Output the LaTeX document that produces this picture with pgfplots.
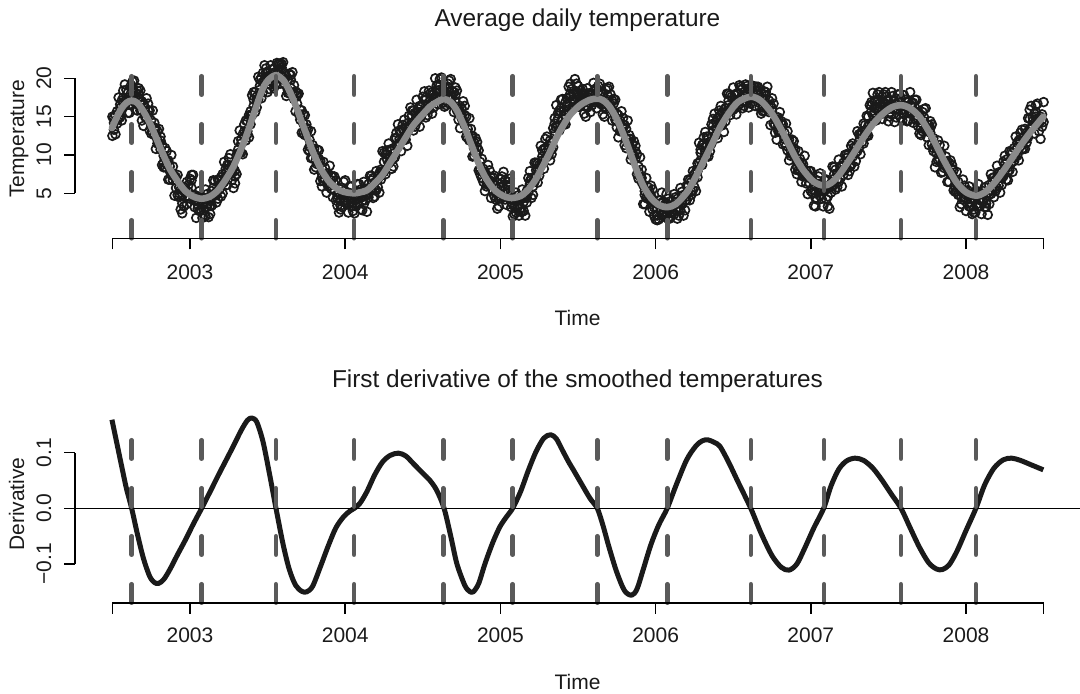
\documentclass[border=0pt]{standalone}
\usepackage{fontspec}
\setmainfont{Liberation Sans}
\usepackage{pgfplots}
\pgfplotsset{compat=1.18}
\usepackage{pgfplotstable}

\definecolor{vline}{HTML}{5A5A5A}
\definecolor{smoothgray}{HTML}{8A8A8A}
\definecolor{ink}{HTML}{1A1A1A}

\pgfplotstableread{
x y
2002.497 13.5
2002.53 15.0
2002.56 16.1
2002.59 16.8
2002.624 17.1
2002.66 16.8
2002.70 15.7
2002.74 14.2
2002.77 12.8
2002.82 10.4
2002.87 8.2
2002.92 6.6
2002.97 5.3
2003.02 4.6
2003.075 4.3
2003.13 4.6
2003.18 5.4
2003.23 6.8
2003.28 8.5
2003.33 10.8
2003.37 12.9
2003.42 15.9
2003.47 18.7
2003.51 19.9
2003.554 20.4
2003.60 19.8
2003.64 18.4
2003.68 16.5
2003.72 14.3
2003.75 12.7
2003.79 10.5
2003.84 8.3
2003.89 6.7
2003.94 5.7
2003.99 5.2
2004.059 5.0
2004.10 5.15
2004.14 5.4
2004.19 6.3
2004.24 7.4
2004.29 9.0
2004.342 10.7
2004.39 12.3
2004.44 13.9
2004.50 15.3
2004.546 16.3
2004.59 16.9
2004.637 17.3
2004.68 16.9
2004.72 15.8
2004.77 13.6
2004.80 12.0
2004.825 10.7
2004.86 8.9
2004.90 7.2
2004.95 5.7
2004.997 4.9
2005.04 4.5
2005.079 4.4
2005.13 4.65
2005.18 5.5
2005.23 6.9
2005.28 8.8
2005.324 10.6
2005.36 12.2
2005.40 13.7
2005.44 15.0
2005.47 15.7
2005.52 16.6
2005.577 17.2
2005.624 17.35
2005.66 17.15
2005.70 16.4
2005.75 14.7
2005.80 12.3
2005.846 9.75
2005.88 7.9
2005.92 6.0
2005.97 4.4
2006.02 3.5
2006.075 3.2
2006.13 3.6
2006.20 5.1
2006.26 7.2
2006.30 8.8
2006.336 10.3
2006.38 12.1
2006.415 13.6
2006.47 15.4
2006.53 16.9
2006.613 17.6
2006.68 17.05
2006.75 15.4
2006.81 13.3
2006.86 11.3
2006.91 9.35
2006.96 7.8
2007.02 6.5
2007.083 6.0
2007.13 6.35
2007.18 7.35
2007.23 8.8
2007.285 10.5
2007.34 12.3
2007.40 14.0
2007.46 15.3
2007.52 16.2
2007.581 16.5
2007.64 16.1
2007.70 15.0
2007.76 13.1
2007.81 11.2
2007.847 9.7
2007.89 8.1
2007.94 6.4
2008.00 5.15
2008.064 4.7
2008.12 5.1
2008.18 6.3
2008.24 7.9
2008.294 9.5
2008.35 11.2
2008.42 13.1
2008.498 15.0
}\tempsmooth

\pgfplotstableread{
x y
2002.497 0.159
2002.53 0.115
2002.56 0.075
2002.59 0.036
2002.624 0.000
2002.66 -0.045
2002.70 -0.090
2002.74 -0.122
2002.77 -0.133
2002.796 -0.135
2002.83 -0.128
2002.87 -0.110
2002.92 -0.083
2002.97 -0.057
2003.02 -0.029
2003.075 0.000
2003.13 0.030
2003.18 0.058
2003.23 0.085
2003.28 0.112
2003.33 0.140
2003.37 0.158
2003.398 0.162
2003.43 0.155
2003.47 0.120
2003.51 0.065
2003.554 0.000
2003.60 -0.065
2003.64 -0.110
2003.68 -0.138
2003.72 -0.149
2003.752 -0.150
2003.79 -0.140
2003.84 -0.105
2003.89 -0.068
2003.94 -0.035
2003.99 -0.015
2004.03 -0.005
2004.059 0.000
2004.095 0.009
2004.14 0.030
2004.19 0.060
2004.24 0.083
2004.29 0.095
2004.342 0.099
2004.39 0.094
2004.44 0.080
2004.50 0.063
2004.546 0.050
2004.59 0.032
2004.637 0.000
2004.68 -0.050
2004.72 -0.100
2004.77 -0.138
2004.80 -0.149
2004.825 -0.150
2004.86 -0.135
2004.90 -0.100
2004.95 -0.062
2004.997 -0.033
2005.04 -0.015
2005.079 0.000
2005.13 0.030
2005.18 0.068
2005.23 0.102
2005.28 0.126
2005.324 0.132
2005.36 0.125
2005.40 0.104
2005.44 0.083
2005.470 0.069
2005.52 0.045
2005.577 0.018
2005.624 0.000
2005.66 -0.030
2005.70 -0.070
2005.75 -0.115
2005.80 -0.148
2005.846 -0.156
2005.88 -0.145
2005.92 -0.110
2005.97 -0.065
2006.02 -0.030
2006.075 0.000
2006.13 0.040
2006.20 0.087
2006.26 0.112
2006.30 0.121
2006.336 0.123
2006.38 0.118
2006.415 0.111
2006.47 0.083
2006.53 0.048
2006.613 0.000
2006.68 -0.045
2006.75 -0.085
2006.81 -0.106
2006.86 -0.111
2006.91 -0.100
2006.96 -0.072
2007.02 -0.035
2007.083 0.000
2007.13 0.040
2007.18 0.070
2007.23 0.085
2007.285 0.090
2007.34 0.086
2007.40 0.072
2007.46 0.050
2007.52 0.025
2007.581 0.000
2007.64 -0.035
2007.70 -0.070
2007.76 -0.098
2007.81 -0.109
2007.847 -0.110
2007.89 -0.102
2007.94 -0.078
2008.00 -0.040
2008.064 0.000
2008.12 0.042
2008.18 0.072
2008.24 0.087
2008.294 0.090
2008.35 0.086
2008.42 0.078
2008.498 0.069
}\deriv

\pgfplotstableread{
x a b
2002.50 15.0 12.5
2002.52 15.2 12.7
2002.54 17.5 14.9
2002.56 17.1 14.5
2002.58 19.2 16.6
2002.60 18.1 15.5
2002.62 19.1 16.6
2002.64 19.7 17.2
2002.66 18.4 15.8
2002.68 18.4 15.8
2002.70 16.7 13.8
2002.72 17.4 14.8
2002.74 15.8 13.2
2002.76 15.8 12.9
2002.78 13.5 10.8
2002.80 13.4 11.5
2002.82 11.3 8.7
2002.84 10.9 8.4
2002.86 9.3 6.8
2002.88 10.0 7.4
2002.90 7.3 4.7
2002.92 7.4 4.8
2002.94 5.5 2.9
2002.96 5.8 3.3
2002.98 6.5 3.6
2003.00 6.9 4.3
2003.02 7.4 4.8
2003.04 4.0 1.8
2003.06 5.3 2.7
2003.08 4.4 1.8
2003.10 5.5 2.0
2003.12 4.3 1.9
2003.14 5.3 3.4
2003.16 6.6 4.7
2003.18 6.8 4.3
2003.20 7.1 4.6
2003.22 9.1 6.5
2003.24 8.7 6.1
2003.26 10.1 7.5
2003.28 8.3 5.7
2003.30 10.0 7.5
2003.32 13.2 10.3
2003.34 12.7 10.1
2003.36 14.5 11.9
2003.38 15.2 12.3
2003.40 17.8 15.2
2003.42 18.2 15.6
2003.44 20.2 17.3
2003.46 20.1 17.4
2003.48 21.7 19.8
2003.50 20.8 18.2
2003.52 21.7 19.2
2003.54 21.2 18.7
2003.56 22.0 20.6
2003.58 21.9 19.3
2003.60 22.1 19.8
2003.62 20.3 17.7
2003.64 20.6 18.1
2003.66 20.8 17.9
2003.68 18.3 15.7
2003.70 18.0 15.4
2003.72 15.8 12.9
2003.74 15.2 12.6
2003.76 13.3 10.7
2003.78 13.1 9.6
2003.80 10.8 8.1
2003.82 10.7 8.8
2003.84 9.2 6.6
2003.86 9.1 6.6
2003.88 7.6 5.1
2003.90 8.6 6.0
2003.92 7.1 4.5
2003.94 6.7 4.1
2003.96 5.1 2.5
2003.98 5.7 3.2
2004.00 6.7 3.8
2004.02 5.1 2.5
2004.04 5.9 3.3
2004.06 4.7 2.4
2004.08 6.2 3.6
2004.10 5.5 2.9
2004.12 6.5 3.6
2004.14 5.3 2.6
2004.16 7.3 5.4
2004.18 7.0 4.4
2004.20 7.9 5.4
2004.22 7.6 5.1
2004.24 10.5 7.9
2004.26 10.1 7.5
2004.28 11.5 8.9
2004.30 10.8 8.2
2004.32 12.2 9.7
2004.34 14.0 11.1
2004.36 13.1 10.5
2004.38 14.6 12.0
2004.40 14.1 11.2
2004.42 16.2 13.6
2004.44 15.8 13.2
2004.46 17.2 14.3
2004.48 16.4 13.7
2004.50 17.6 15.7
2004.52 17.5 14.9
2004.54 18.4 15.9
2004.56 17.9 15.4
2004.58 20.0 17.5
2004.60 19.2 16.6
2004.62 20.1 17.6
2004.64 18.9 16.3
2004.66 19.3 16.8
2004.68 19.9 17.3
2004.70 18.2 15.6
2004.72 18.4 15.8
2004.74 16.4 13.5
2004.76 17.0 14.4
2004.78 15.0 12.4
2004.80 14.8 11.9
2004.82 12.5 9.8
2004.84 12.2 10.3
2004.86 10.6 8.0
2004.88 9.5 7.0
2004.90 7.8 5.3
2004.92 8.7 6.1
2004.94 7.0 4.4
2004.96 7.3 4.7
2004.98 5.6 3.0
2005.00 6.9 4.4
2005.02 7.8 4.9
2005.04 6.1 3.5
2005.06 6.9 4.3
2005.08 3.6 2.0
2005.10 5.1 2.5
2005.12 4.4 2.1
2005.14 5.5 2.6
2005.16 4.6 2.1
2005.18 7.0 5.1
2005.20 7.0 4.4
2005.22 9.0 6.5
2005.24 8.9 6.4
2005.26 11.2 8.6
2005.28 10.8 8.2
2005.30 12.4 9.8
2005.32 11.9 9.3
2005.34 13.5 11.0
2005.36 16.5 13.6
2005.38 15.8 13.2
2005.40 17.3 14.7
2005.42 16.9 14.0
2005.44 18.9 16.3
2005.46 18.6 16.0
2005.48 19.9 17.0
2005.50 19.0 16.3
2005.52 18.4 16.5
2005.54 18.0 15.4
2005.56 18.7 16.2
2005.58 18.1 15.6
2005.60 19.4 17.1
2005.62 18.7 16.1
2005.64 19.3 16.8
2005.66 17.9 15.3
2005.68 18.5 16.0
2005.70 18.9 16.3
2005.72 17.1 14.5
2005.74 17.2 14.6
2005.76 15.2 12.3
2005.78 15.7 13.1
2005.80 13.9 11.3
2005.82 14.5 11.6
2005.84 12.1 9.4
2005.86 11.8 9.9
2005.88 10.1 7.5
2005.90 9.7 7.2
2005.92 6.1 3.6
2005.94 7.0 4.4
2005.96 5.2 2.6
2005.98 5.5 2.9
2006.00 3.7 1.6
2006.02 4.1 1.6
2006.04 5.1 2.2
2006.06 3.5 1.9
2006.08 4.3 1.7
2006.10 3.3 2.0
2006.12 4.9 2.3
2006.14 4.3 1.7
2006.16 5.7 2.8
2006.18 4.8 2.1
2006.20 6.0 4.1
2006.22 6.7 4.1
2006.24 7.9 5.4
2006.26 7.8 5.3
2006.28 11.6 9.0
2006.30 11.3 8.7
2006.32 13.0 10.4
2006.34 12.4 9.8
2006.36 14.0 11.5
2006.38 15.4 12.5
2006.40 14.8 12.2
2006.42 16.4 13.8
2006.44 15.9 13.0
2006.46 18.0 15.4
2006.48 17.8 15.2
2006.50 18.8 15.9
2006.52 18.0 15.3
2006.54 19.1 17.2
2006.56 18.7 16.1
2006.58 19.2 16.9
2006.60 18.7 16.2
2006.62 18.9 17.6
2006.64 18.9 16.4
2006.66 18.9 16.9
2006.68 18.0 15.4
2006.70 18.3 15.8
2006.72 18.9 16.0
2006.74 16.5 13.9
2006.76 16.7 14.1
2006.78 14.9 12.0
2006.80 15.6 13.0
2006.82 14.0 11.4
2006.84 14.1 11.2
2006.86 12.0 9.3
2006.88 12.0 10.1
2006.90 10.7 8.1
2006.92 10.5 8.0
2006.94 9.0 6.5
2006.96 9.9 7.3
2006.98 7.5 4.9
2007.00 7.9 5.3
2007.02 6.0 3.4
2007.04 6.7 4.2
2007.06 7.6 4.7
2007.08 5.9 3.3
2007.10 6.8 4.2
2007.12 5.9 3.0
2007.14 8.5 5.9
2007.16 8.1 5.5
2007.18 9.4 6.5
2007.20 8.6 5.9
2007.22 10.0 8.1
2007.24 10.0 7.4
2007.26 11.2 8.7
2007.28 11.0 8.5
2007.30 13.1 10.5
2007.32 12.7 10.1
2007.34 14.1 11.5
2007.36 15.1 12.5
2007.38 16.5 14.0
2007.40 18.1 15.2
2007.42 17.1 14.5
2007.44 18.2 15.7
2007.46 17.6 14.7
2007.48 18.2 16.7
2007.50 17.0 14.4
2007.52 18.2 15.3
2007.54 17.0 14.3
2007.56 17.9 16.0
2007.58 17.4 14.8
2007.60 17.8 15.3
2007.62 16.9 14.4
2007.64 18.2 15.6
2007.66 16.8 14.2
2007.68 17.2 14.6
2007.70 15.4 12.8
2007.72 15.6 13.1
2007.74 16.1 13.2
2007.76 13.9 11.3
2007.78 14.0 11.4
2007.80 11.3 8.4
2007.82 11.9 9.3
2007.84 10.3 7.7
2007.86 11.2 8.3
2007.88 9.2 6.5
2007.90 9.3 7.4
2007.92 8.0 5.4
2007.94 7.8 5.3
2007.96 5.7 3.2
2007.98 6.8 4.2
2008.00 5.3 2.7
2008.02 5.9 3.3
2008.04 4.4 2.3
2008.06 5.0 2.5
2008.08 6.2 3.3
2008.10 4.9 2.3
2008.12 5.8 3.2
2008.14 5.1 2.2
2008.16 7.5 4.9
2008.18 7.1 4.5
2008.20 8.6 5.7
2008.22 7.8 5.1
2008.24 9.1 7.2
2008.26 9.4 6.8
2008.28 10.5 8.0
2008.30 10.3 7.8
2008.32 12.4 9.8
2008.34 11.9 9.3
2008.36 13.3 10.7
2008.38 13.4 10.8
2008.40 14.8 12.3
2008.42 16.4 13.5
2008.44 15.4 12.8
2008.46 16.7 14.1
2008.48 15.0 12.1
2008.50 16.9 14.3
}\obs

\pgfplotstableread{
x y u l
2002.51 14.2 14.9 13.3
2002.53 14.6 15.7 14.1
2002.55 16.1 16.6 14.9
2002.57 17.5 18.4 16.9
2002.59 17.2 18.5 16.8
2002.61 16.6 17.2 15.5
2002.63 18.6 19.6 17.8
2002.65 17.7 18.1 16.7
2002.67 17.9 18.7 17.4
2002.69 15.8 17.0 14.5
2002.71 15.7 16.2 15.0
2002.73 15.8 16.7 15.2
2002.75 13.8 14.5 12.8
2002.77 13.5 14.2 12.6
2002.79 12.0 13.1 11.5
2002.81 11.9 12.4 10.7
2002.83 9.0 9.9 8.4
2002.85 9.2 10.5 8.8
2002.87 7.9 8.5 6.8
2002.89 7.5 8.5 6.7
2002.91 6.7 7.1 5.7
2002.93 5.0 5.8 4.5
2002.95 3.7 4.9 2.4
2002.97 5.2 5.7 4.5
2002.99 5.2 6.1 4.6
2003.01 6.7 7.4 5.7
2003.03 4.1 4.8 3.2
2003.05 3.5 4.6 3.0
2003.07 4.1 4.6 2.9
2003.09 2.8 3.7 2.2
2003.11 3.6 4.9 3.2
2003.13 3.4 4.0 2.3
2003.15 5.7 6.7 4.9
2003.17 4.8 5.2 3.8
2003.19 6.0 6.8 5.5
2003.21 6.3 7.5 5.0
2003.23 7.7 8.2 7.0
2003.25 8.7 9.6 8.1
2003.27 7.7 8.4 6.7
2003.29 7.2 7.9 6.3
2003.31 10.7 11.8 10.2
2003.33 11.5 12.0 10.3
2003.35 13.1 14.0 12.5
2003.37 13.1 14.4 12.7
2003.39 15.1 15.7 14.0
2003.41 17.2 18.2 16.4
2003.43 17.2 17.6 16.2
2003.45 19.0 19.8 18.5
2003.47 19.5 20.7 18.2
2003.49 20.8 21.3 20.1
2003.51 19.2 20.1 18.6
2003.53 20.5 21.2 19.5
2003.55 20.1 20.8 19.2
2003.57 21.1 21.9 20.6
2003.59 21.4 21.9 20.2
2003.61 19.8 20.7 19.2
2003.63 18.5 19.8 18.1
2003.65 19.8 20.4 18.7
2003.67 18.1 19.1 17.3
2003.69 17.7 18.1 16.7
2003.71 15.1 15.9 14.6
2003.73 14.1 15.3 12.8
2003.75 13.5 14.0 12.8
2003.77 11.1 12.0 10.5
2003.79 10.6 11.3 9.6
2003.81 9.3 10.0 8.4
2003.83 9.5 10.6 9.0
2003.85 7.1 7.6 5.9
2003.87 7.4 8.3 6.8
2003.89 6.3 7.6 5.9
2003.91 6.7 7.3 5.6
2003.93 6.2 7.2 5.4
2003.95 4.4 4.8 3.4
2003.97 3.4 4.2 2.9
2003.99 5.3 6.5 4.0
2004.01 4.4 4.9 3.7
2004.03 5.0 5.9 4.4
2004.05 3.7 4.4 2.7
2004.07 4.2 4.9 3.3
2004.09 5.1 6.2 4.6
2004.11 4.0 4.5 2.8
2004.13 4.7 5.6 4.1
2004.15 4.9 6.2 4.5
2004.17 6.7 7.3 5.6
2004.19 5.4 6.4 4.6
2004.21 6.8 7.2 5.8
2004.23 7.3 8.1 6.8
2004.25 9.1 10.3 7.8
2004.27 10.1 10.6 9.4
2004.29 9.7 10.6 9.1
2004.31 9.5 10.2 8.5
2004.33 12.2 12.9 11.3
2004.35 12.1 13.2 11.6
2004.37 13.4 13.9 12.2
2004.39 12.6 13.5 12.0
2004.41 13.8 15.1 13.4
2004.43 15.2 15.8 14.1
2004.45 14.5 15.5 13.7
2004.47 15.6 16.0 14.6
2004.49 15.6 16.4 15.1
2004.51 17.1 18.3 15.8
2004.53 15.9 16.4 15.2
2004.55 17.2 18.1 16.6
2004.57 17.2 17.9 16.2
2004.59 18.4 19.1 17.5
2004.61 19.0 19.9 18.5
2004.63 18.0 18.5 16.8
2004.65 17.1 18.0 16.5
2004.67 18.7 19.7 18.3
2004.69 17.7 18.3 16.6
2004.71 17.8 18.8 17.0
2004.73 15.6 16.0 14.6
2004.75 15.3 16.1 14.8
2004.77 15.2 16.4 13.9
2004.79 12.9 13.4 12.2
2004.81 12.5 13.4 11.9
2004.83 10.9 11.6 9.9
2004.85 11.0 11.7 10.1
2004.87 8.0 9.1 7.5
2004.89 7.7 8.2 6.5
2004.91 6.5 7.4 5.9
2004.93 6.7 8.0 6.3
2004.95 6.5 7.1 5.4
2004.97 5.0 6.0 4.2
2004.99 4.3 4.7 3.3
2005.01 6.4 7.2 5.9
2005.03 5.5 6.7 4.2
2005.05 6.0 6.5 5.3
2005.07 3.8 4.7 3.2
2005.09 3.3 4.0 2.3
2005.11 4.0 4.7 3.1
2005.13 3.1 4.2 2.6
2005.15 3.9 4.4 2.7
2005.17 4.4 5.3 3.8
2005.19 6.6 7.9 6.2
2005.21 5.9 6.5 4.8
2005.23 8.0 9.0 7.2
2005.25 8.3 8.7 7.3
2005.27 9.8 10.6 9.3
2005.29 10.9 12.1 9.6
2005.31 10.7 11.2 10.0
2005.33 10.7 11.6 10.1
2005.35 14.1 14.8 13.1
2005.37 14.7 15.4 13.8
2005.39 16.1 17.2 15.6
2005.41 15.3 15.8 14.1
2005.43 16.5 17.4 15.9
2005.45 18.0 19.3 17.6
2005.47 17.3 17.9 16.2
2005.49 18.3 19.3 17.5
2005.51 17.3 17.7 16.3
2005.53 17.8 18.6 17.3
2005.55 16.3 17.5 15.0
2005.57 17.5 18.0 16.8
2005.59 17.1 18.0 16.5
2005.61 17.9 18.6 16.9
2005.63 18.3 19.0 17.4
2005.65 17.1 18.2 16.6
2005.67 16.2 16.7 15.0
2005.69 17.8 18.7 17.2
2005.71 16.6 17.9 16.2
2005.73 16.7 17.3 15.6
2005.75 14.4 15.4 13.6
2005.77 14.1 14.5 13.1
2005.79 14.0 14.8 13.5
2005.81 12.2 13.4 10.9
2005.83 12.1 12.6 11.4
2005.85 10.5 11.4 9.9
2005.87 10.5 11.2 9.5
2005.89 7.8 8.5 6.9
2005.91 7.0 8.1 6.5
2005.93 4.8 5.3 3.6
2005.95 4.9 5.8 4.3
2005.97 4.7 6.0 4.3
2005.99 3.2 3.8 2.1
2006.01 2.1 3.1 1.5
2006.03 3.7 4.1 2.7
2006.05 3.1 3.9 2.6
2006.07 3.7 4.9 2.4
2006.09 2.4 2.9 1.7
2006.11 3.1 4.0 2.5
2006.13 3.8 4.5 2.8
2006.15 3.0 3.7 2.1
2006.17 4.1 5.2 3.6
2006.19 4.0 4.5 2.8
2006.21 5.9 6.8 5.3
2006.23 5.2 6.5 4.8
2006.25 6.9 7.5 5.8
2006.27 7.9 8.9 7.1
2006.29 10.3 10.7 9.3
2006.31 11.5 12.3 11.0
2006.33 11.2 12.4 9.9
2006.35 11.2 11.7 10.5
2006.37 13.8 14.7 13.2
2006.39 13.6 14.3 12.6
2006.41 15.1 15.8 14.2
2006.43 14.4 15.5 13.9
2006.45 15.6 16.1 14.4
2006.47 17.1 18.0 16.5
2006.49 16.3 17.6 15.9
2006.51 17.2 17.8 16.1
2006.53 17.1 18.1 16.3
2006.55 18.5 18.9 17.5
2006.57 16.9 17.7 16.4
2006.59 18.1 19.0 16.8
2006.61 17.4 17.9 16.7
2006.63 18.1 19.0 17.5
2006.65 18.4 18.9 17.4
2006.67 17.1 17.8 16.2
2006.69 16.2 17.3 15.7
2006.71 17.7 18.2 16.5
2006.73 16.2 17.1 15.6
2006.75 16.1 17.4 15.7
2006.77 14.0 14.6 12.9
2006.79 13.9 14.9 13.1
2006.81 14.0 14.4 13.0
2006.83 12.1 12.9 11.6
2006.85 11.9 13.1 10.6
2006.87 10.6 11.1 9.9
2006.89 10.9 11.8 10.3
2006.91 8.5 9.2 7.5
2006.93 8.8 9.5 7.9
2006.95 7.7 8.8 7.2
2006.97 7.5 8.0 6.3
2006.99 7.0 7.9 6.4
2007.01 5.5 6.8 5.1
2007.03 4.4 5.0 3.3
2007.05 6.2 7.2 5.4
2007.07 5.3 5.7 4.3
2007.09 5.9 6.7 5.4
2007.11 4.6 5.8 3.3
2007.13 5.8 6.3 5.1
2007.15 7.5 8.4 6.9
2007.17 6.8 7.5 5.8
2007.19 7.8 8.5 6.9
2007.21 7.9 9.0 7.4
2007.23 9.6 10.1 8.4
2007.25 8.5 9.4 7.9
2007.27 10.2 11.5 9.8
2007.29 10.3 10.9 9.2
2007.31 11.7 12.7 10.9
2007.33 12.7 13.1 11.7
2007.35 13.1 13.9 12.6
2007.37 13.8 15.0 12.5
2007.39 16.4 16.9 15.7
2007.41 16.1 17.0 15.5
2007.43 17.2 17.9 16.2
2007.45 16.2 16.9 15.3
2007.47 16.8 17.9 16.3
2007.49 17.1 17.6 15.9
2007.51 15.6 16.5 15.0
2007.53 16.4 17.7 16.0
2007.55 16.0 16.6 14.9
2007.57 17.2 17.9 16.4
2007.59 15.5 15.9 14.5
2007.61 16.4 17.2 15.9
2007.63 15.8 17.0 14.5
2007.65 16.3 16.8 15.6
2007.67 16.3 17.2 15.7
2007.69 14.8 15.5 13.8
2007.71 13.5 14.2 12.6
2007.73 14.9 16.0 14.4
2007.75 13.5 14.0 12.3
2007.77 13.5 14.4 12.9
2007.79 10.9 12.2 10.5
2007.81 10.2 10.8 9.1
2007.83 10.3 11.3 9.5
2007.85 8.8 9.2 7.8
2007.87 9.0 9.8 8.5
2007.89 7.8 9.0 6.5
2007.91 8.2 8.7 7.5
2007.93 5.8 6.7 5.2
2007.95 5.8 6.5 4.8
2007.97 4.5 5.2 3.6
2007.99 4.9 6.0 4.4
2008.01 4.9 5.4 3.7
2008.03 3.8 4.7 3.2
2008.05 2.9 4.2 2.5
2008.07 4.7 5.3 3.6
2008.09 4.1 5.1 3.3
2008.11 4.9 5.3 3.9
2008.13 3.7 4.5 3.2
2008.15 4.9 6.1 3.6
2008.17 6.5 7.0 5.8
2008.19 5.9 6.8 5.3
2008.21 7.0 7.7 6.0
2008.23 7.0 7.7 6.1
2008.25 8.8 9.9 8.3
2008.27 7.9 8.4 6.7
2008.29 9.5 10.4 8.9
2008.31 9.6 10.9 9.2
2008.33 11.0 11.6 9.9
2008.35 11.9 12.9 11.1
2008.37 11.9 12.3 10.9
2008.39 12.1 12.9 11.6
2008.41 14.7 15.9 13.4
2008.43 14.4 14.9 13.7
2008.45 15.6 16.5 15.0
2008.47 14.1 14.8 13.1
2008.49 14.6 15.3 13.7
}\obsmid

\pgfplotsset{
  rpanel/.style={
    scale only axis, anchor=south west,
    width=502.5pt, clip=false, clip marker paths=true,
    xmin=2002.259, xmax=2008.7345,
    axis x line*=bottom, axis y line*=left,
    axis line style={draw=none},
    tick align=outside, major tick length=5.5pt,
    tick style={black, line width=0.75pt},
    xtick={2002.5,2003,2004,2005,2006,2007,2008,2008.5},
    xticklabels={,,,,,,,},
  },
  obsmarks/.style={only marks, mark=o, mark size=2.2pt,
    mark options={draw=ink, line width=0.85pt}},
}

\begin{document}
\begin{tikzpicture}[x=1pt,y=1pt]
\useasboundingbox (0,0) rectangle (540,347);

% ---------- top panel ----------
\begin{axis}[rpanel,
  at={(37.5pt,227.85pt)}, height=99.15pt,
  ymin=-0.861, ymax=25.0, ytick={5,10,15,20}, yticklabels={,,,}]
  \addplot[obsmarks] table[x=x, y=a] {\obs};
  \addplot[obsmarks] table[x=x, y=b] {\obs};
  \addplot[obsmarks] table[x=x, y=y] {\obsmid};
  \addplot[obsmarks] table[x=x, y=u] {\obsmid};
  \addplot[obsmarks] table[x=x, y=l] {\obsmid};
  \addplot[smooth, smoothgray, line width=3.3pt, line cap=round] table {\tempsmooth};
  \pgfplotsinvokeforeach{2002.624,2003.075,2003.554,2004.057,2004.632,2005.079,2005.624,2006.075,2006.613,2007.085,2007.581,2008.064}{
    \addplot[vline, line width=2.25pt, line cap=round, dash pattern=on 9.25pt off 14.75pt]
      coordinates {(#1,20.275) (#1,-0.861)};
  }
  \draw[black, line width=0.75pt] (axis cs:2002.5,-0.861) -- (axis cs:2008.5,-0.861);
  \draw[black, line width=0.75pt] (axis cs:2002.259,5) -- (axis cs:2002.259,20);
\end{axis}

% ---------- bottom panel ----------
\begin{axis}[rpanel,
  at={(37.5pt,45.5pt)}, height=101.5pt,
  ymin=-0.170, ymax=0.1944, ytick={-0.1,0,0.1}, yticklabels={,,}]
  \addplot[smooth, ink, line width=2.5pt, line join=round] table {\deriv};
  \addplot[black, line width=0.75pt] coordinates {(2002.259,0) (2008.7345,0)};
  \pgfplotsinvokeforeach{2002.624,2003.075,2003.554,2004.057,2004.632,2005.079,2005.624,2006.075,2006.613,2007.085,2007.581,2008.064}{
    \addplot[vline, line width=2.25pt, line cap=round, dash pattern=on 9.25pt off 14.75pt]
      coordinates {(#1,0.1222) (#1,-0.170)};
  }
  \draw[black, line width=0.75pt] (axis cs:2002.5,-0.170) -- (axis cs:2008.5,-0.170);
  \draw[black, line width=0.75pt] (axis cs:2002.259,-0.1) -- (axis cs:2002.259,0.1);
\end{axis}

% ---------- text ----------
\tikzset{ax/.style={font=\fontsize{10.5}{12.6}\selectfont, text=ink, inner sep=0pt},
         ttl/.style={font=\fontsize{12.2}{14.6}\selectfont, text=ink, inner sep=0pt}}
\node[ttl, anchor=base] at (288.75,333.5) {Average daily temperature};
\node[ttl, anchor=base] at (288.75,153) {First derivative of the smoothed temperatures};
\foreach \xx/\lab in {95/2003,172.6/2004,250.2/2005,327.8/2006,405.4/2007,483/2008}{
  \node[ax, anchor=base] at (\xx,207) {\lab};
  \node[ax, anchor=base] at (\xx,25.5) {\lab};
}
\node[ax, anchor=base] at (288.75,184) {Time};
\node[ax, anchor=base] at (288.75,2) {Time};
\foreach \yy/\lab in {250.35/5,269.5/10,288.65/15,307.85/20}{
  \node[ax, anchor=base, rotate=90] at (25.5,\yy) {\lab};
}
\node[ax, anchor=base, rotate=90] at (25.5,65) {−0.1};
\node[ax, anchor=base, rotate=90] at (25.5,92.85) {0.0};
\node[ax, anchor=base, rotate=90] at (25.5,120.65) {0.1};
\node[ax, anchor=base, rotate=90] at (12,277.5) {Temperature};
\node[ax, anchor=base, rotate=90] at (12,95) {Derivative};
\end{tikzpicture}
\end{document}
